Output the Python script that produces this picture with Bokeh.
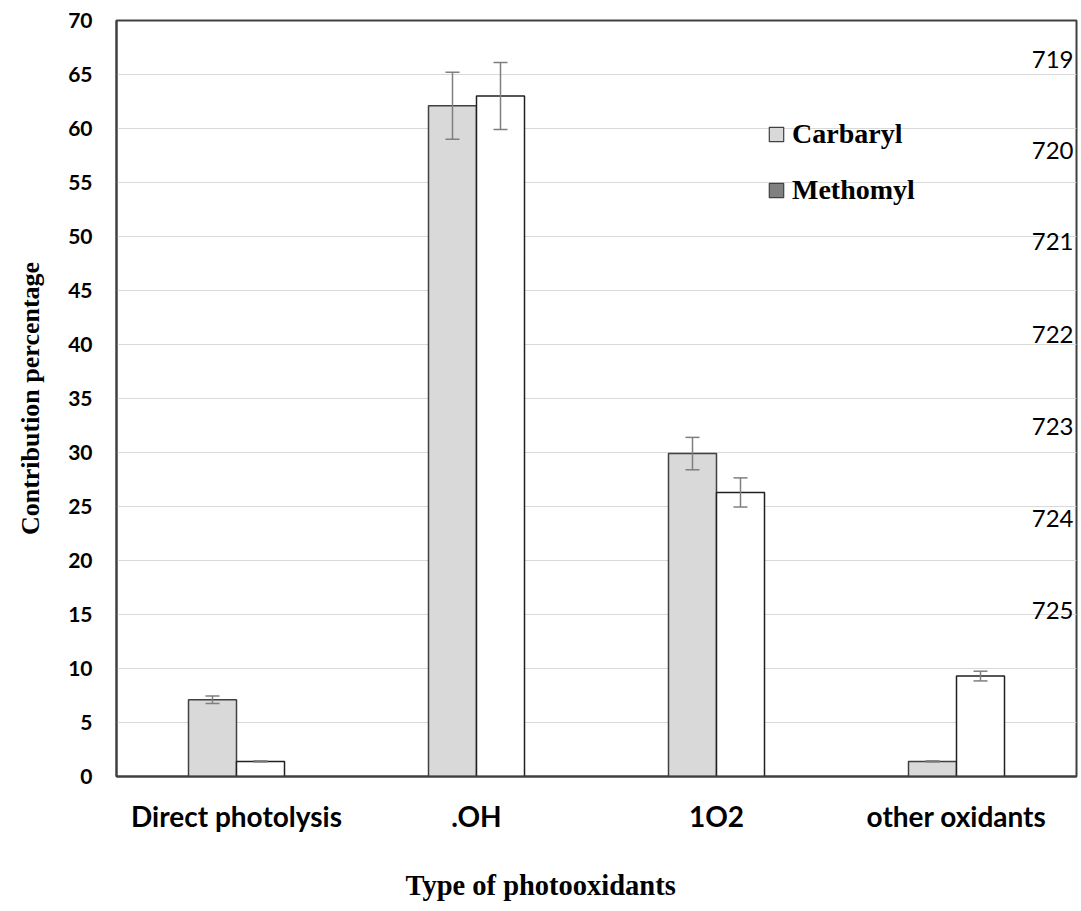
from bokeh.plotting import figure
from bokeh.models import ColumnDataSource, Whisker, TeeHead, Legend, LegendItem, Label, FactorRange, Title
from bokeh.transform import dodge
from bokeh.embed import file_html
from bokeh.resources import INLINE

categories = ["Direct photolysis", ".OH", "1O2", "other oxidants"]
carbaryl = [7.1, 62.1, 29.9, 1.4]
carbaryl_err = [0.35, 3.1, 1.5, 0.05]
methomyl = [1.4, 63.0, 26.3, 9.3]
methomyl_err = [0.05, 3.1, 1.35, 0.45]
y_ticks = list(range(0, 75, 5))
line_numbers = ["719", "720", "721", "722", "723", "724", "725"]
line_number_y = [66.4, 58.0, 49.5, 40.9, 32.4, 23.9, 15.4]

src = ColumnDataSource(dict(
    cat=categories,
    c=carbaryl, c_lo=[v - e for v, e in zip(carbaryl, carbaryl_err)], c_hi=[v + e for v, e in zip(carbaryl, carbaryl_err)],
    m=methomyl, m_lo=[v - e for v, e in zip(methomyl, methomyl_err)], m_hi=[v + e for v, e in zip(methomyl, methomyl_err)],
))

p = figure(x_range=FactorRange(*categories, range_padding=0), y_range=(0, 70),
           frame_width=960, frame_height=756, width=1080, height=908,
           min_border_left=116, min_border_top=20, min_border_right=4, min_border_bottom=132,
           output_backend="svg", toolbar_location=None)
p.x_range.factor_padding = 0

tick_font = "Lato"
p.vbar(x=dodge("cat", -0.1, range=p.x_range), top="c", width=0.2, source=src,
       fill_color="#d9d9d9", line_color="#404040", line_width=1.5)
p.vbar(x=dodge("cat", 0.1, range=p.x_range), top="m", width=0.2, source=src,
       fill_color="#ffffff", line_color="#202020", line_width=1.5)

for base, lo, hi in [(-0.1, "c_lo", "c_hi"), (0.1, "m_lo", "m_hi")]:
    w = Whisker(base=dodge("cat", base, range=p.x_range), lower=lo, upper=hi, source=src,
                line_color="#7f7f7f", line_width=1.5, level="overlay",
                upper_head=TeeHead(size=14, line_color="#7f7f7f", line_width=1.5),
                lower_head=TeeHead(size=14, line_color="#7f7f7f", line_width=1.5))
    p.add_layout(w)

# legend swatches: placeholder renderers (NaN position, never drawn in the plot area)
nan = float("nan")
r1 = p.rect(x=[categories[0]], y=[nan], width=0.1, height=1, fill_color="#d9d9d9", line_color="#404040", line_width=1.2)
r2 = p.rect(x=[categories[0]], y=[nan], width=0.1, height=1, fill_color="#808080", line_color="#404040", line_width=1.2)
leg = Legend(items=[LegendItem(label="Carbaryl", renderers=[r1]), LegendItem(label="Methomyl", renderers=[r2])],
             location=(651, 570), padding=0, margin=0, spacing=24, label_height=30,
             glyph_width=18, glyph_height=18, label_standoff=7,
             background_fill_alpha=0, border_line_alpha=0,
             label_text_font="Liberation Serif", label_text_font_style="bold", label_text_font_size="28px",
             label_text_color="#000000")
p.add_layout(leg)

for t, yv in zip(line_numbers, line_number_y):
    p.add_layout(Label(x=957, x_units="screen", y=yv, text=t, text_font="Lato", text_font_size="24px",
                       text_align="right", text_baseline="middle", text_color="#000000"))

# x-axis title (sits left of the frame centre in the original)
p.add_layout(Title(text="Type of photooxidants", align="left", offset=289, standoff=66,
                   vertical_align="middle",
                   text_font="Liberation Serif", text_font_style="bold", text_font_size="28.5px",
                   text_color="#000000"), "below")

p.outline_line_color = "#404040"
p.outline_line_width = 2
p.xgrid.grid_line_color = None
p.ygrid.grid_line_color = "#d9d9d9"
p.ygrid.grid_line_width = 1
p.yaxis.ticker = y_ticks
for ax in (p.xaxis[0], p.yaxis[0]):
    ax.axis_line_color = "#404040"
    ax.axis_line_width = 2
    ax.major_tick_line_color = None
    ax.minor_tick_line_color = None
    ax.major_label_text_font = tick_font
    ax.major_label_text_font_style = "bold"
    ax.major_label_text_color = "#000000"
    ax.axis_label_text_font = "Liberation Serif"
    ax.axis_label_text_font_style = "bold"
    ax.axis_label_text_color = "#000000"
p.yaxis.major_label_text_font_size = "21px"
p.xaxis.major_label_text_font_size = "28px"
p.yaxis.major_label_standoff = 18
p.xaxis.major_label_standoff = 16
p.yaxis.axis_label = "Contribution percentage"
p.yaxis.axis_label_text_font_size = "26px"
p.yaxis.axis_label_standoff = 20

open("out.html", "w").write(file_html(p, INLINE))
